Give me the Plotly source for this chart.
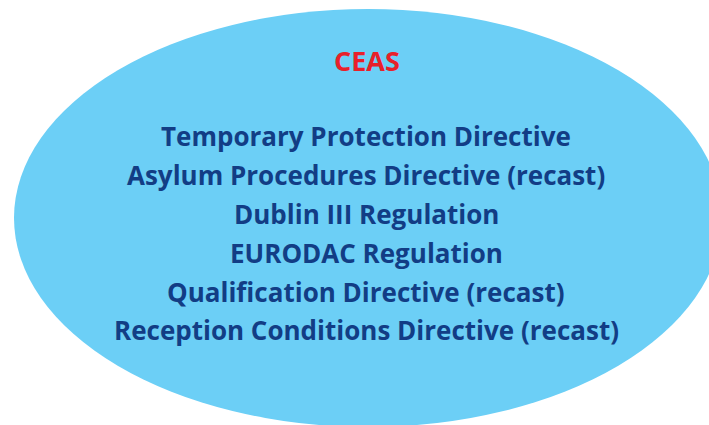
import plotly.graph_objects as go

title_text = "CEAS"
instruments = [
    "Temporary Protection Directive",
    "Asylum Procedures Directive (recast)",
    "Dublin III Regulation",
    "EURODAC Regulation",
    "Qualification Directive (recast)",
    "Reception Conditions Directive (recast)",
]
line_y = [136, 175, 214, 253, 292, 330]
title_y = 60

W, H = 709, 425
fig = go.Figure()
cx, cy, a, b = 368, 218, 354, 209
fig.add_shape(type="circle", xref="x", yref="y", x0=cx - a, x1=cx + a, y0=cy - b, y1=cy + b,
              fillcolor="#6CCFF6", line=dict(width=0), layer="below")
fig.add_annotation(x=367, y=title_y, text="<b>" + title_text + "</b>", showarrow=False,
                   font=dict(family="Open Sans", size=27, color="#E8202A"), xanchor="center", yanchor="middle")
for t, y in zip(instruments, line_y):
    fig.add_annotation(x=366, y=y, text="<b>" + t + "</b>", showarrow=False,
                       font=dict(family="Open Sans", size=26, color="#123D85"), xanchor="center", yanchor="middle")
fig.update_xaxes(range=[0, W], visible=False, fixedrange=True)
fig.update_yaxes(range=[H, 0], visible=False, fixedrange=True)
fig.update_layout(width=W, height=H, margin=dict(l=0, r=0, t=0, b=0),
                  plot_bgcolor="white", paper_bgcolor="white", showlegend=False)
fig.write_html("out.html", config={"displayModeBar": False},
               post_script="document.body.style.margin='0';document.body.style.overflow='hidden';")
